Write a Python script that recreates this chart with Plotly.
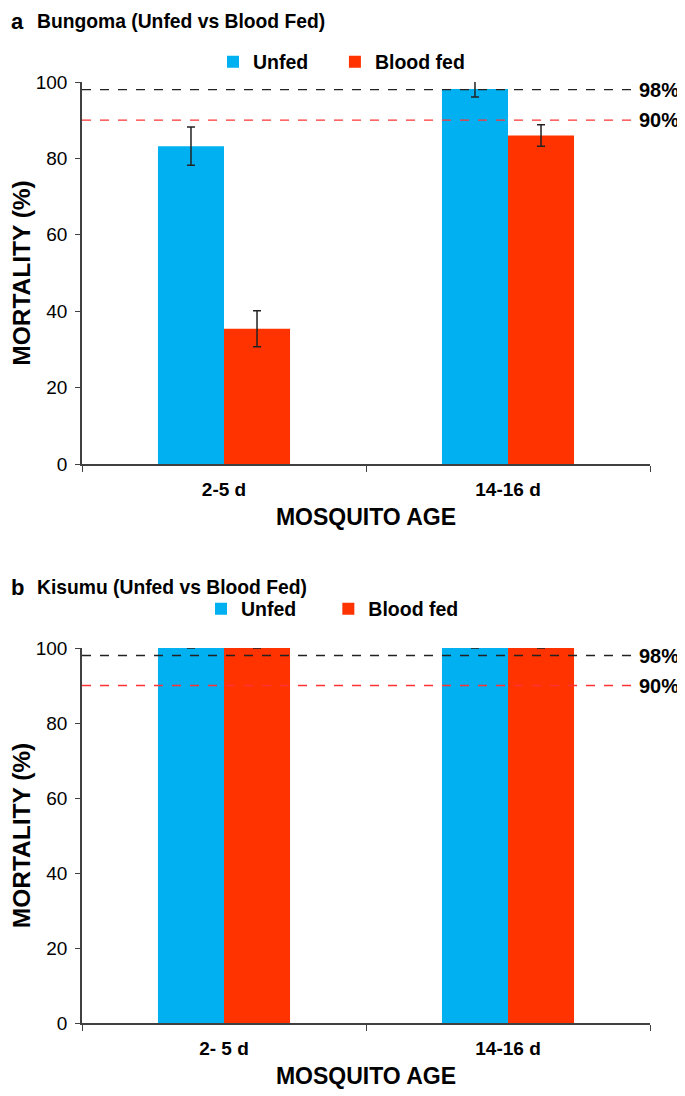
import plotly.graph_objects as go
from plotly.subplots import make_subplots

# Data
ages_a = ["2-5 d", "14-16 d"]
ages_b = ["2- 5 d", "14-16 d"]
unfed_a = [83.2, 98.2]
unfed_a_err = [5.0, 2.1]
fed_a = [35.4, 86.0]
fed_a_err = [4.7, 2.8]
unfed_b = [100, 100]
unfed_b_err = [0, 0]
fed_b = [100, 100]
fed_b_err = [0, 0]
thresholds = [98, 90]
threshold_labels = ["98%", "90%"]
threshold_colors = ["#222222", "#FF3333"]

BLUE = "#00B0F0"
RED = "#FF3300"
FONT = "Liberation Sans"
AXIS = "#404040"
OFF = 8  # page body margin
W, H = 685 - OFF, 1096 - OFF

def px(x):  # page pixel -> paper x
    return (x - OFF) / W

def py(y):  # page pixel -> paper y
    return 1 - (y - OFF) / H

NB = "\u00a0"
fig = make_subplots(rows=2, cols=1)

def add_panel(row, ages, unfed, unfed_err, fed, fed_err, legend, pad):
    err_style = dict(type="data", color="#222222", thickness=1.5, width=4, visible=True)
    fig.add_trace(go.Bar(x=ages, y=unfed, name="<b>Unfed</b>" + NB * pad, marker_color=BLUE,
                         marker_line_width=0, legend=legend, cliponaxis=False,
                         error_y=dict(array=unfed_err, **err_style)), row=row, col=1)
    fig.add_trace(go.Bar(x=ages, y=fed, name="<b>Blood fed</b>", marker_color=RED,
                         marker_line_width=0, legend=legend, cliponaxis=False,
                         error_y=dict(array=fed_err, **err_style)), row=row, col=1)

add_panel(1, ages_a, unfed_a, unfed_a_err, fed_a, fed_a_err, "legend", 4)
add_panel(2, ages_b, unfed_b, unfed_b_err, fed_b, fed_b_err, "legend2", 5)

# threshold lines + labels
for xr, yr in [("x", "y"), ("x2", "y2")]:
    for val, lab, col in zip(thresholds, threshold_labels, threshold_colors):
        fig.add_shape(type="line", xref=xr + " domain", yref=yr, x0=0, x1=0.977,
                      y0=val, y1=val, line=dict(color=col, width=1.3, dash="dash"))
        fig.add_annotation(xref=xr + " domain", yref=yr, x=0.977, y=val, text="<b>" + lab + "</b>",
                           showarrow=False, xanchor="left", yanchor="middle",
                           font=dict(family=FONT, size=20, color="black"))

# panel titles (panel letter box kept inside the page)
fig.add_annotation(xref="paper", yref="paper", x=px(10), y=1, xanchor="left", yanchor="top",
                   borderpad=0, text="<b>a</b>", showarrow=False,
                   font=dict(family=FONT, size=22, color="black"))
fig.add_annotation(xref="paper", yref="paper", x=px(10), y=py(587.3), xanchor="left",
                   yanchor="middle", borderpad=0, text="<b>b</b>", showarrow=False,
                   font=dict(family=FONT, size=22, color="black"))
for name, ypix in [("Bungoma", 22), ("Kisumu", 587)]:
    fig.add_annotation(xref="paper", yref="paper", x=px(35), y=py(ypix), xanchor="left",
                       yanchor="middle", text="<b>" + name + " (Unfed vs Blood Fed)</b>",
                       showarrow=False, font=dict(family=FONT, size=19.3, color="black"))

fig.update_yaxes(range=[0, 100], tickvals=[0, 20, 40, 60, 80, 100], showgrid=False, zeroline=False,
                 showline=True, linecolor=AXIS, linewidth=1.5, ticks="outside", ticklen=5,
                 tickcolor=AXIS, tickfont=dict(family=FONT, size=19, color="black"),
                 tickprefix="<b>", ticksuffix="</b>", automargin=False, ticklabelstandoff=4,
                 title=dict(text="<b>MORTALITY (%)</b>", font=dict(family=FONT, size=24.5, color="black"),
                            standoff=5))
fig.update_xaxes(showgrid=False, showline=True, linecolor=AXIS, linewidth=1.5, ticks="outside",
                 ticklen=6, tickcolor=AXIS, tickson="boundaries", automargin=False, ticklabelstandoff=7,
                 tickfont=dict(family=FONT, size=19, color="black"), tickprefix="<b>", ticksuffix="</b>",
                 title=dict(text="<b>MOSQUITO AGE</b>", font=dict(family=FONT, size=23, color="black"),
                            standoff=10))
fig.update_yaxes(domain=[py(464), py(82)], row=1, col=1)
fig.update_yaxes(domain=[py(1023), py(648)], row=2, col=1)
fig.update_xaxes(domain=[px(82), px(650)])

leg = dict(orientation="h", xanchor="left", yanchor="middle",
           font=dict(family=FONT, size=19.5, color="black"), bgcolor="rgba(0,0,0,0)",
           itemwidth=30, traceorder="normal")
fig.update_layout(
    width=W, height=H,
    margin=dict(l=0, r=0, t=0, b=0),
    plot_bgcolor="white", paper_bgcolor="white",
    barmode="group", bargap=0.535, bargroupgap=0,
    legend=dict(x=px(213), y=py(62), **leg),
    legend2=dict(x=px(201), y=py(609), **leg),
    showlegend=True,
)

fig.write_html("out.html")
